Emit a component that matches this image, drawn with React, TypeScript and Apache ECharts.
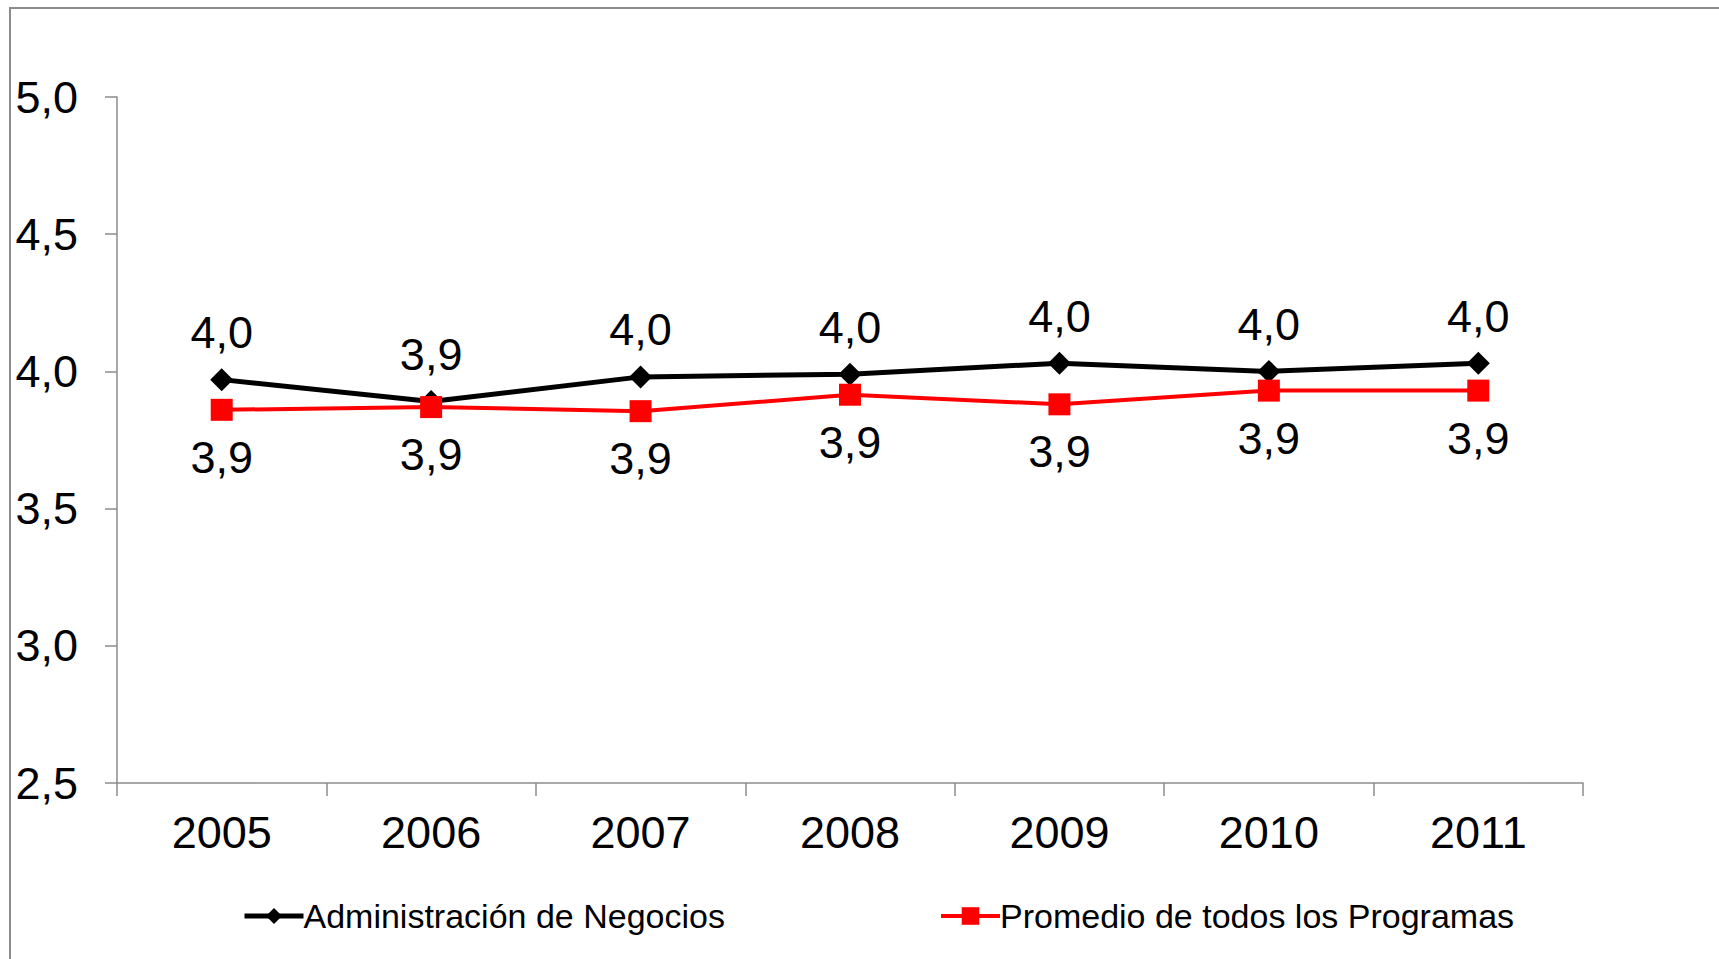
import React, { useEffect, useRef } from "react";
import * as echarts from "echarts";

const categories = ["2005", "2006", "2007", "2008", "2009", "2010", "2011"];
const adminValues = [3.97, 3.89, 3.98, 3.99, 4.03, 4.0, 4.03];
const promedioValues = [3.86, 3.87, 3.855, 3.915, 3.88, 3.93, 3.93];
const seriesNames = ["Administración de Negocios", "Promedio de todos los Programas"];
const yMin = 2.5;
const yMax = 5.0;
const yInterval = 0.5;

const FONT = "'Liberation Sans', Arial, sans-serif";
const fmt = (v: number) => v.toFixed(1).replace(".", ",");

export default function App() {
  const ref = useRef<HTMLDivElement>(null);

  useEffect(() => {
    if (!ref.current) return;
    const chart = echarts.init(ref.current, undefined, { renderer: "svg" });
    chart.setOption({
      animation: false,
      backgroundColor: "#ffffff",
      textStyle: { fontFamily: FONT },
      graphic: [
        {
          type: "rect",
          shape: { x: 10, y: 8, width: 1730, height: 980 },
          style: { fill: "none", stroke: "#8c8c8c", lineWidth: 2 },
          silent: true,
          z: -1,
        },
      ],
      grid: { left: 117, right: 136, top: 97, bottom: 176, containLabel: false },
      legend: [
        {
          data: [seriesNames[0]],
          left: 237,
          top: 894,
          itemWidth: 59,
          itemHeight: 20,
          lineStyle: { width: 5 },
          textStyle: { fontSize: 34, color: "#000", fontFamily: FONT, padding: [0, 0, 0, -5] },
        },
        {
          data: [seriesNames[1]],
          left: 934,
          top: 894,
          itemWidth: 59,
          itemHeight: 22,
          lineStyle: { width: 4 },
          textStyle: { fontSize: 34, color: "#000", fontFamily: FONT, padding: [0, 0, 0, -5] },
        },
      ],
      xAxis: {
        type: "category",
        data: categories,
        boundaryGap: true,
        axisLine: { lineStyle: { color: "#8c8c8c", width: 1.5 } },
        axisTick: { show: true, length: 13, alignWithLabel: false, lineStyle: { color: "#8c8c8c", width: 1.5 } },
        axisLabel: { fontSize: 45, color: "#000", margin: 27, fontFamily: FONT },
        splitLine: { show: false },
      },
      yAxis: {
        type: "value",
        min: yMin,
        max: yMax,
        interval: yInterval,
        axisLine: { show: true, lineStyle: { color: "#8c8c8c", width: 1.5 } },
        axisTick: { show: true, length: 12, lineStyle: { color: "#8c8c8c", width: 1.5 } },
        axisLabel: { fontSize: 45, color: "#000", margin: 39, fontFamily: FONT, formatter: (v: number) => fmt(v) },
        splitLine: { show: false },
      },
      series: [
        {
          name: seriesNames[0],
          type: "line",
          data: adminValues,
          color: "#000000",
          symbol: "diamond",
          symbolSize: 23,
          lineStyle: { color: "#000000", width: 5 },
          itemStyle: { color: "#000000" },
          label: {
            show: true,
            position: "top",
            distance: 13,
            fontSize: 45,
            color: "#000",
            fontFamily: FONT,
            formatter: (p: any) => fmt(p.value),
          },
          z: 3,
        },
        {
          name: seriesNames[1],
          type: "line",
          data: promedioValues,
          color: "#ff0000",
          symbol: "rect",
          symbolSize: 22,
          lineStyle: { color: "#ff0000", width: 4 },
          itemStyle: { color: "#ff0000" },
          label: {
            show: true,
            position: "bottom",
            distance: 14,
            fontSize: 45,
            color: "#000",
            fontFamily: FONT,
            formatter: (p: any) => fmt(p.value),
          },
          z: 4,
        },
      ],
    });
    return () => chart.dispose();
  }, []);

  return (
    <div
      ref={ref}
      style={{ position: "absolute", left: 0, top: 0, width: 1719, height: 959 }}
    />
  );
}
